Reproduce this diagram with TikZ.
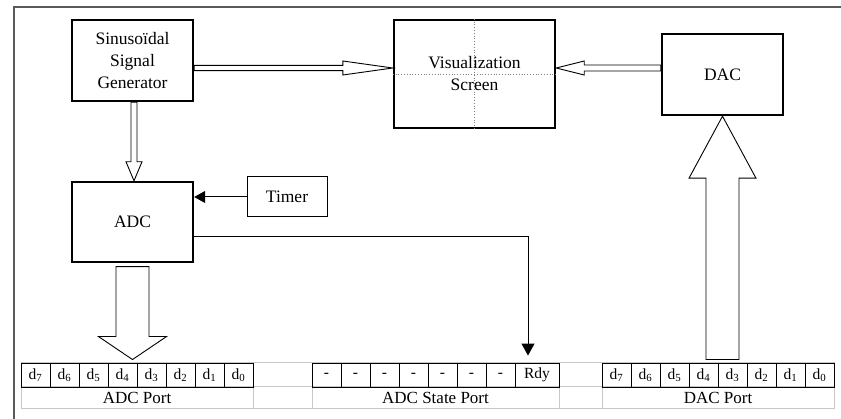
\documentclass[tikz,border=0pt]{standalone}
\usepackage{fontspec}
\setmainfont{Liberation Serif}
\usetikzlibrary{calc,arrows.meta}
\definecolor{lgray}{RGB}{200,200,200}
\definecolor{fgray}{RGB}{90,90,90}
\newcommand\blockarr[5]{%
  \coordinate (bah) at ($(#2)!#5!(#1)$);
  \draw[blockarrow] ($(#1)!#3!90:(#2)$) -- ($(bah)!#3!90:(#2)$) -- ($(bah)!#4!90:(#2)$) -- (#2)
    -- ($(bah)!#4!-90:(#2)$) -- ($(bah)!#3!-90:(#2)$) -- ($(#1)!#3!-90:(#2)$) -- cycle;}
\begin{document}
\begin{tikzpicture}[x=1pt,y=-1pt,
  mainbox/.style={draw, line width=2.4pt, fill=white, align=center, inner sep=0pt,
    font=\fontsize{17.5}{22}\selectfont},
  thinbox/.style={draw, line width=1pt, align=center, inner sep=0pt,
    font=\fontsize{17.5}{22}\selectfont},
  blockarrow/.style={draw, line width=0.9pt, fill=white, line join=miter},
  cell/.style={draw, line width=0.9pt, minimum width=29pt, minimum height=24pt, inner sep=0pt,
    font=\fontsize{15.5}{18}\selectfont},
  portlabel/.style={inner sep=0pt, font=\fontsize{17}{20}\selectfont},
  conn/.style={line width=1pt}]
\useasboundingbox (0,0) rectangle (841,419);
% frame
\draw[line width=1.3pt, fgray] (14,419) -- (14,7) -- (841,7);
% boxes
\node[mainbox, minimum width=121pt, minimum height=81pt] (sig) at (132.5,60.5)
  {Sinusoïdal\\Signal\\Generator};
\node[mainbox, minimum width=161pt, minimum height=108pt] (scr) at (474.5,74) {};
\draw[gray, dotted, line width=0.8pt] (scr.north) -- (scr.south) (scr.west) -- (scr.east);
\node[align=center, inner sep=0pt, font=\fontsize{17.5}{22}\selectfont] (scrt) at (scr.center)
  {Visualization\\Screen};
\node[mainbox, minimum width=121pt, minimum height=81pt] (dac) at (722.5,74.5) {DAC};
\node[mainbox, minimum width=121pt, minimum height=80pt] (adc) at (132.5,222) {ADC};
\node[thinbox, minimum width=80pt, minimum height=40pt] (timer) at (287,197) {Timer};
% port table (gray grid)
\draw[lgray, line width=1pt] (21,363) rectangle (834,409) (21,387) -- (834,387)
  (253,363) -- (253,409) (312,363) -- (312,409) (559,363) -- (559,409) (602,363) -- (602,409);
\foreach \i [count=\k from 0] in {7,6,5,4,3,2,1,0} {
  \node[cell] (a\i) at (35.5+29*\k,375) {d\textsubscript{\i}};
  \node[cell] (b\i) at (616.5+29*\k,375) {d\textsubscript{\i}};
}
\foreach \k in {0,...,6} {
  \node[cell] (s\k) at (326.5+29*\k,375) {-};
}
\node[cell, minimum width=44pt] (rdy) at (537,375) {Rdy};
\node[portlabel] (lbla) at (137,398) {ADC Port};
\node[portlabel] (lbls) at (435.5,398) {ADC State Port};
\node[portlabel] (lblb) at (718,398) {DAC Port};
% hollow arrows
\blockarr{[yshift=-7.5pt]sig.east}{[yshift=6pt]scr.west}{2.6pt}{7pt}{50pt}
\blockarr{[yshift=6.5pt]dac.west}{[yshift=6pt]scr.east}{3pt}{7pt}{28pt}
\blockarr{[xshift=1.5pt]sig.south}{[xshift=1.5pt]adc.north}{3pt}{8pt}{19pt}
\coordinate (adctip) at ($(adc.south |- a4.north)+(0,-3)$);
\blockarr{[yshift=-3.5pt]adc.south}{adctip}{16.5pt}{34pt}{23pt}
\coordinate (dacbase) at ($(dac.south |- b4.north)+(0,-3)$);
\blockarr{dacbase}{dac.south}{16.5pt}{33.5pt}{62pt}
% thin connectors
\draw[conn, -{Triangle[length=11pt,width=12pt]}] (timer.west) -- (adc.east |- timer.west);
\coordinate (rdyin) at ($(rdy.north)+(-9,-7)$);
\draw[conn, -{Triangle[length=12pt,width=13pt]}] ([yshift=-15pt]adc.east) -| (rdyin);
\end{tikzpicture}
\end{document}
